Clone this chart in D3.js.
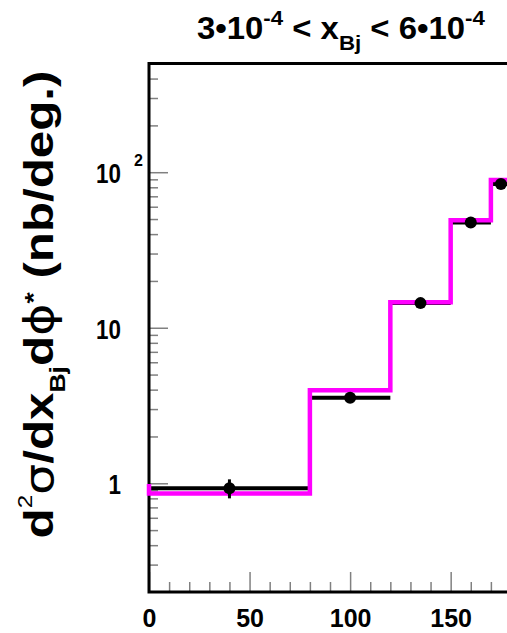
<!DOCTYPE html>
<html>
<head>
<meta charset="utf-8">
<script src="https://cdn.jsdelivr.net/npm/d3@7"></script>
<style>
body { margin: 0; background: #fff; }
svg { display: block; }
text { font-family: "Liberation Sans", Arial, sans-serif; font-weight: bold; white-space: pre; }
</style>
</head>
<body>
<svg id="chart" width="507" height="633"></svg>
<script>
// bin edges in phi* (deg.)
var binEdges = [0, 80, 120, 150, 170, 180];

// data points: bin centres, values and errors (nb/deg.)
var dataX = [40, 100, 135, 160, 175];
var dataY = [0.93, 3.55, 14.4, 47.5, 84];
var dataErr = [0.13, 0.25, 0.8, 2.0, 3.5];

// magenta prediction, one value per bin (plus the stub at the left edge)
var predY = [0.86, 3.97, 14.6, 49.2, 89];
var predLead = 0.99;

// axes
var xTicks = [0, 50, 100, 150];
var xMinorTicks = [10, 20, 30, 40, 60, 70, 80, 90, 110, 120, 130, 140, 160, 170];
var yTicks = [1, 10, 100];
var yTickLabels = ["1", "10", "10"];
var yTickSups = ["", "", "2"];
var yMinorTicks = [0.3, 0.4, 0.5, 0.6, 0.7, 0.8, 0.9,
                   2, 3, 4, 5, 6, 7, 8, 9,
                   20, 30, 40, 50, 60, 70, 80, 90,
                   200, 300, 400];

var margin = {top: 63.5, left: 149},
    width = 362,
    height = 528.5;

var svg = d3.select("#chart");

var x = d3.scaleLinear()
    .domain([0, 180])
    .range([margin.left, margin.left + width]);

var y = d3.scaleLog()
    .domain([0.2, 500])
    .range([margin.top + height, margin.top]);

var tickColor = "#808080";

// X Axis Ticks
svg.append("g")
    .attr("transform", "translate(0," + (margin.top + height) + ")")
    .call(d3.axisBottom(x).tickValues(xMinorTicks).tickSizeInner(-10).tickSizeOuter(0).tickFormat(""));

var xMajor = svg.append("g")
    .attr("transform", "translate(0," + (margin.top + height) + ")")
    .call(d3.axisBottom(x).tickValues(xTicks).tickSizeInner(-20).tickSizeOuter(0).tickPadding(17));
xMajor.selectAll("text")
    .attr("fill", "#000")
    .style("font-size", "25px");

// Y Axis Ticks
svg.append("g")
    .attr("transform", "translate(" + margin.left + ",0)")
    .call(d3.axisLeft(y).tickValues(yMinorTicks).tickSizeInner(-9).tickSizeOuter(0).tickFormat(""));

var yMajor = svg.append("g")
    .attr("transform", "translate(" + margin.left + ",0)")
    .call(d3.axisLeft(y).tickValues(yTicks).tickSizeInner(-19).tickSizeOuter(0)
        .tickFormat(function(d, i) { return yTickLabels[i]; }));
yMajor.selectAll("text")
    .attr("fill", "#000")
    .attr("x", 0)
    .attr("dy", "0.38em")
    .style("font-size", "28px")
    .attr("transform", "translate(-28,0) scale(0.8,1)");
yMajor.selectAll(".tick")
    .filter(function(d, i) { return yTickSups[i] !== ""; })
    .append("text")
    .attr("x", -15)
    .attr("y", -7)
    .attr("text-anchor", "start")
    .attr("fill", "#000")
    .style("font-size", "16px")
    .text(function(d) { return yTickSups[yTicks.indexOf(d)]; });

svg.selectAll(".domain").remove();
svg.selectAll(".tick line")
    .attr("stroke", tickColor)
    .attr("stroke-width", 1.5);

// Frame
svg.append("path")
    .attr("fill", "none")
    .attr("stroke", "#000")
    .attr("stroke-width", 3)
    .attr("d", "M" + x(180) + "," + y(500) + "H" + x(0) + "V" + y(0.2) + "H" + x(180));

// Black data bars (bin widths)
svg.append("g").selectAll("line")
    .data(dataY)
    .enter().append("line")
    .attr("x1", function(d, i) { return x(binEdges[i]); })
    .attr("x2", function(d, i) { return x(binEdges[i + 1]); })
    .attr("y1", function(d) { return y(d); })
    .attr("y2", function(d) { return y(d); })
    .attr("stroke", "#000")
    .attr("stroke-width", 4);

// Magenta prediction
var stepPts = [[0, predLead]];
predY.forEach(function(v, i) { stepPts.push([binEdges[i], v]); });
stepPts.push([binEdges[binEdges.length - 1], predY[predY.length - 1]]);

svg.append("path")
    .datum(stepPts)
    .attr("fill", "none")
    .attr("stroke", "#ff00ff")
    .attr("stroke-width", 4.5)
    .attr("d", d3.line()
        .x(function(d) { return x(d[0]); })
        .y(function(d) { return y(d[1]); })
        .curve(d3.curveStepAfter));

// Error bars and markers
svg.append("g").selectAll("line")
    .data(dataY)
    .enter().append("line")
    .attr("x1", function(d, i) { return x(dataX[i]); })
    .attr("x2", function(d, i) { return x(dataX[i]); })
    .attr("y1", function(d, i) { return y(d - dataErr[i]); })
    .attr("y2", function(d, i) { return y(d + dataErr[i]); })
    .attr("stroke", "#000")
    .attr("stroke-width", 3);

svg.append("g").selectAll("circle")
    .data(dataY)
    .enter().append("circle")
    .attr("cx", function(d, i) { return x(dataX[i]); })
    .attr("cy", function(d) { return y(d); })
    .attr("r", 6)
    .attr("fill", "#000");

// Title
var title = svg.append("text").style("font-size", "31px");
title.append("tspan").text("3\u202210");
title.append("tspan").attr("dy", -14).style("font-size", "21px").text("-4");
title.append("tspan").attr("dy", 14).text(" < x");
title.append("tspan").attr("dy", 11).style("font-size", "21px").text("Bj");
title.append("tspan").attr("dy", -11).text(" < 6\u202210");
title.append("tspan").attr("dy", -14).style("font-size", "21px").text("-4");
var tLen = title.node().getComputedTextLength();
title.attr("transform", "translate(197,39) scale(" + (288 / tLen) + ",1)");

// Y Axis title
var yt = svg.append("text").attr("text-anchor", "middle").style("font-size", "41px");
yt.append("tspan").text("d");
yt.append("tspan").attr("dy", -21).style("font-size", "20px").style("font-weight", "normal").text("2");
yt.append("tspan").attr("dy", 21).style("font-weight", "normal").style("font-family", "DejaVu Sans").text("\u03c3");
yt.append("tspan").text("/dx");
yt.append("tspan").attr("dy", 12).style("font-size", "22px").text("Bj");
yt.append("tspan").attr("dy", -12).text("d");
yt.append("tspan").style("font-weight", "normal").style("font-family", "DejaVu Sans").text("\u03d5");
yt.append("tspan").attr("dy", -11).style("font-size", "24px").text("*");
yt.append("tspan").attr("dy", 11).text(" (nb/deg.)");
var yLen = yt.node().getComputedTextLength();
yt.attr("transform", "translate(53,304.5) rotate(-90) scale(" + (468 / yLen) + ",1)");
</script>
</body>
</html>
